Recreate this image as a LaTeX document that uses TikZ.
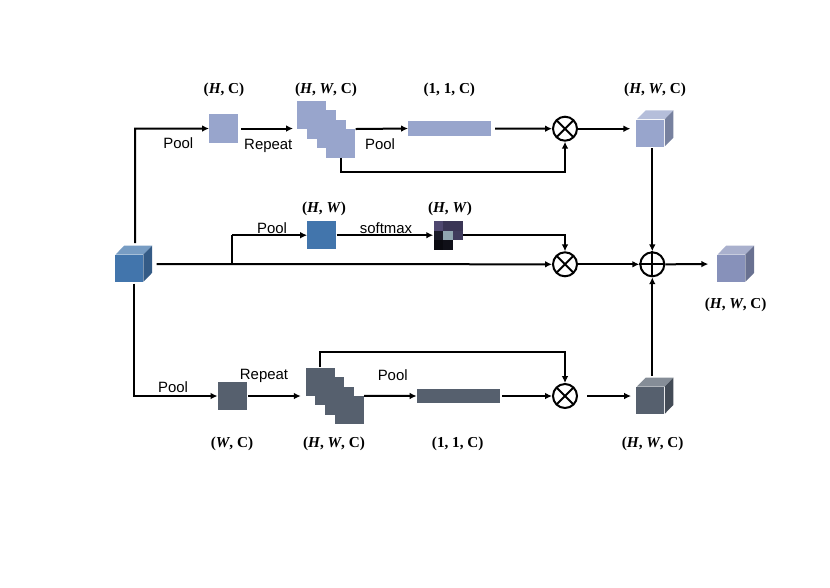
\documentclass[tikz,border=0pt]{standalone}
\usepackage{fontspec}
\setmainfont{Liberation Sans}
\newfontfamily\capfont{Liberation Serif}
\usetikzlibrary{calc,arrows.meta}

\definecolor{lightc}{HTML}{98A5CC}
\definecolor{bluec}{HTML}{4275AC}
\definecolor{darkc}{HTML}{56606E}
\definecolor{outc}{HTML}{8791BA}

\tikzset{
  conn/.style={draw, line width=1.5pt, -{Latex[length=5.2pt,width=5pt]}},
  wire/.style={draw, line width=1.5pt},
  word/.style={font=\fontsize{11.2}{13}\selectfont, inner sep=0pt},
  sizelabel/.style={font=\capfont\bfseries\fontsize{11.4}{13}\selectfont, inner sep=0pt, yshift=-1.4pt},
  sq/.style={minimum width=21.8pt, minimum height=21.2pt, inner sep=0pt},
  barbox/.style={minimum width=62pt, minimum height=10.8pt, inner sep=0pt},
  opbase/.style={circle, draw, line width=1.5pt, minimum size=18pt, inner sep=0pt, fill=white},
  otimesop/.style={opbase, path picture={
    \draw[line width=1.5pt] (path picture bounding box.north west) -- (path picture bounding box.south east);
    \draw[line width=1.5pt] (path picture bounding box.north east) -- (path picture bounding box.south west);}},
}

\def\HWC{(\textit{H}, \textit{W}, C)}

% name, centre, colour
\newcommand{\featcube}[3]{
  \node[minimum width=27.4pt, minimum height=27pt, inner sep=0pt] (#1) at (#2) {};
  \fill[#3!72!white] (#1.north east) -- ++(-20.9pt,0) -- ++(-6.5pt,-6.6pt) -- ++(20.9pt,0) -- cycle;
  \fill[#3!78!black] (#1.north east) -- ++(0,-20.4pt) -- ++(-6.5pt,-6.6pt) -- ++(0,20.4pt) -- cycle;
  \fill[#3] (#1.south west) rectangle ++(20.9pt,20.4pt);
}

\begin{document}
\begin{tikzpicture}[x=0.75pt,y=-0.75pt]
\useasboundingbox (0,0) rectangle (830,587);

% input
\featcube{in}{133.5,264}{bluec}

% top branch
\node[sq,fill=lightc] (sqH) at (223.8,128.5) {};
\foreach \i in {1,...,4}
  \node[sq,fill=lightc] (st\i) at ({311.8+(\i-1)*9.67},{114.9+(\i-1)*9.5}) {};
\node[barbox,fill=lightc] (barH) at (449.6,128.5) {};
\node[otimesop] (mulH) at (565,128.7) {};
\featcube{cubeH}{654.9,128.7}{lightc}

% middle branch
\node[sq,fill=bluec] (sqM) at (321.9,235.2) {};
\node[sq] (heat) at (448,235.2) {};
\foreach \c [count=\i from 0] in {4F4870,3A3555,3A3555,1A1A28,8FA5B0,3F3B5C,0A0A10,101018,FFFFFF} {
  \definecolor{cellc}{HTML}{\c}
  \pgfmathsetmacro{\cx}{433.5+9.67*mod(\i,3)}
  \pgfmathsetmacro{\cy}{221+9.5*int(\i/3)}
  \fill[cellc] (\cx,\cy) rectangle +(9.67,9.5);
}
\node[otimesop] (mulM) at (565,264.3) {};
\node[opbase] (add) at (652.3,264.3) {};
\draw[wire] (add.north) -- (add.south);
\draw[wire] (add.west) -- (add.east);
\featcube{out}{735.5,264}{outc}

% bottom branch
\node[sq,fill=darkc] (sqW) at (232.3,396) {};
\foreach \i in {1,...,4}
  \node[sq,fill=darkc] (sb\i) at ({320.2+(\i-1)*9.67},{381.7+(\i-1)*9.5}) {};
\node[barbox,fill=darkc] (barW) at (458.2,396) {};
\node[otimesop] (mulW) at (565,396) {};
\featcube{cubeW}{654.9,396}{darkc}

% bends
\coordinate (upT) at (135,128.7);
\coordinate (upM) at (232.3,235.2);
\coordinate (backT) at (340.7,172.3);
\coordinate (backB) at (320,352.3);

% top connectors
\draw[conn,shorten <=2pt] (upT |- in.north) -- (upT) -- (sqH.west);
\draw[conn,shorten <=2pt,shorten >=3pt] (sqH.east) -- (sqH -| st1.west);
\draw[conn] (st4.north east) -- (barH.west);
\draw[conn,shorten <=3pt] (barH.east) -- (mulH.west);
\draw[conn,shorten >=4.5pt] (mulH.east) -- (cubeH.west);
\draw[conn] (backT |- st4.south) -- (backT) -| (mulH.south);
\draw[conn,shorten <=1pt] (add |- cubeH.south) -- (add.north);

% middle connectors
\draw[conn,shorten <=3.5pt] (in.east) -- (mulM.west);
\draw[wire] (upM |- mulM) -- (upM);
\draw[conn] (upM) -- (sqM.west);
\draw[conn] (sqM.east) -- (heat.west);
\draw[conn] (heat.east) -| (mulM.north);
\draw[conn] (mulM.east) -- (add.west);
\draw[conn,shorten >=6.5pt] (add.east) -- (out.west);

% bottom connectors
\draw[conn,shorten <=1pt] (in.south) |- (sqW.west);
\draw[conn,shorten <=1pt,shorten >=3.5pt] (sqW.east) -- (sqW -| sb1.west);
\draw[conn] (sb4.north east) -- (barW.west);
\draw[conn,shorten <=2pt] (barW.east) -- (mulW.west);
\draw[conn,shorten <=7pt,shorten >=4pt] (mulW.east) -- (cubeW.west);
\draw[conn] (backB |- sb1.north) -- (backB) -| (mulW.north);
\draw[conn,shorten <=1.5pt] (add |- cubeW.north) -- (add.south);

% words
\node[word] (wPoolA) at (178.3,142.7) {Pool};
\node[word] (wRepA) at (268.3,145.8) {Repeat};
\node[word] (wPoolB) at (380,144.5) {Pool};
\node[word] (wPoolM) at (272,227.7) {Pool};
\node[word] (wSoft) at (386,227.7) {softmax};
\node[word] (wPoolC) at (173,386.7) {Pool};
\node[word] (wRepB) at (264,375.5) {Repeat};
\node[word] (wPoolD) at (392.7,374.7) {Pool};

% sizes
\node[sizelabel] (cA) at (224,88) {(\textit{H}, C)};
\node[sizelabel] (cB) at (326,88) {\HWC};
\node[sizelabel] (cC) at (449.3,88) {(1, 1, C)};
\node[sizelabel] (cD) at (655,88) {\HWC};
\node[sizelabel] (cE) at (324,206.7) {(\textit{H}, \textit{W})};
\node[sizelabel] (cF) at (450,206.7) {(\textit{H}, \textit{W})};
\node[sizelabel] (cG) at (735.7,302.7) {\HWC};
\node[sizelabel] (cH) at (232,442) {(\textit{W}, C)};
\node[sizelabel] (cI) at (334,442) {\HWC};
\node[sizelabel] (cJ) at (457.7,442) {(1, 1, C)};
\node[sizelabel] (cK) at (652.7,442) {\HWC};
\end{tikzpicture}
\end{document}
